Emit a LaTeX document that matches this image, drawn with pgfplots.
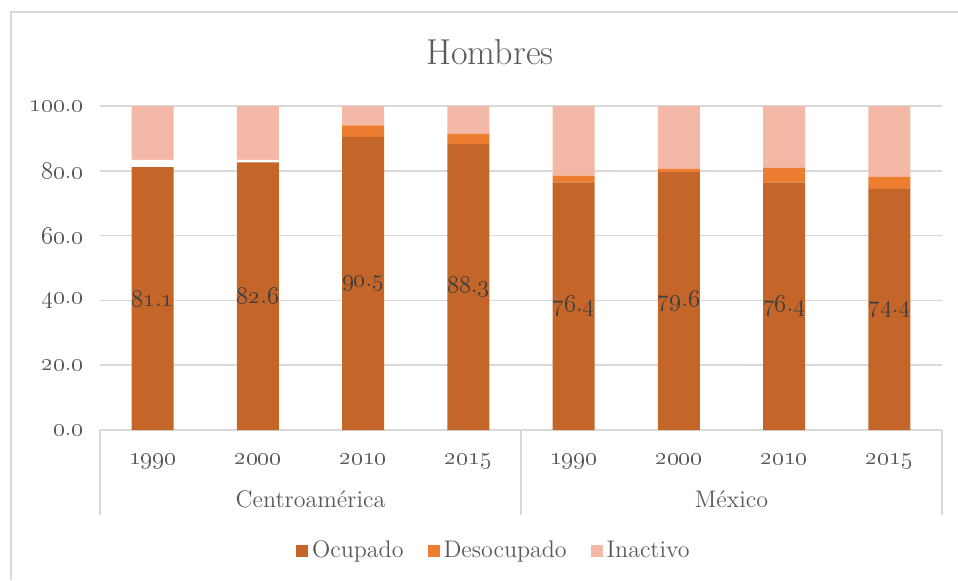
\documentclass[border=0pt]{standalone}
\usepackage{pgfplots}
\pgfplotsset{compat=1.18}

\definecolor{ocup}{HTML}{C4652A}
\definecolor{desoc}{HTML}{ED7D31}
\definecolor{inact}{HTML}{F4B9A6}
\definecolor{gridc}{HTML}{D9D9D9}
\definecolor{txt}{HTML}{595959}
\definecolor{lbl}{HTML}{404040}

% old style figures with a real period in between
\newcommand\osn[2]{\oldstylenums{#1}.\oldstylenums{#2}}
\def\osnsplit#1.#2\relax{\oldstylenums{#1}.\oldstylenums{#2}}

\begin{document}
\begin{tikzpicture}[x=0.5pt,y=0.5pt]
\useasboundingbox (0,0) rectangle (958,580);
\draw[gridc, line width=0.75pt] (11,0) -- (11,568) -- (958,568);
\node[txt, font=\fontsize{18}{20}\selectfont] at (490,528) {Hombres};

\begin{axis}[
    at={(50pt,75pt)}, anchor=south west,
    scale only axis, width=421pt, height=162pt,
    ybar stacked, bar width=21pt,
    xmin=-0.5, xmax=7.5, ymin=0, ymax=100,
    xtick={0,...,7},
    xticklabels={\oldstylenums{1990},\oldstylenums{2000},\oldstylenums{2010},\oldstylenums{2015},
                 \oldstylenums{1990},\oldstylenums{2000},\oldstylenums{2010},\oldstylenums{2015}},
    ytick={0,20,...,100},
    yticklabels={\osn{0}{0},\osn{20}{0},\osn{40}{0},\osn{60}{0},\osn{80}{0},\osn{100}{0}},
    axis x line*=bottom, axis y line*=left,
    y axis line style={draw=none},
    x axis line style={gridc, line width=0.75pt},
    tick style={draw=none},
    ymajorgrids, grid style={gridc, line width=0.75pt},
    ticklabel style={txt, font=\fontsize{11.5}{13}\selectfont},
    xticklabel style={anchor=base, yshift=-17pt},
    yticklabel style={xshift=-5pt},
    clip=false,
    legend columns=3,
    legend style={at={(0.469,-0.373)}, anchor=center, draw=none, fill=none,
        text=txt, font=\fontsize{12}{14}\selectfont,
        /tikz/every even column/.append style={column sep=10pt}},
    legend image code/.code={\draw[#1,draw=none] (0pt,-3pt) rectangle (6pt,3pt);},
]
\addplot[fill=ocup, draw=none,
    point meta=explicit symbolic,
    nodes near coords={\expandafter\osnsplit\pgfplotspointmeta\relax},
    every node near coord/.append style={anchor=center, text=lbl,
        font=\fontsize{12.5}{14}\selectfont},
] coordinates {
    (0,81.1) [81.1] (1,82.6) [82.6] (2,90.5) [90.5] (3,88.3) [88.3]
    (4,76.4) [76.4] (5,79.6) [79.6] (6,76.4) [76.4] (7,74.4) [74.4]
};
\addlegendentry{Ocupado}
% Desocupado shown in white for the first two bars
\addplot[fill=white, draw=none, forget plot] coordinates {
    (0,2.3) (1,0.8) (2,0) (3,0) (4,0) (5,0) (6,0) (7,0)
};
\addplot[fill=desoc, draw=none] coordinates {
    (0,0) (1,0) (2,3.5) (3,3.1) (4,2.1) (5,1.0) (6,4.5) (7,3.7)
};
\addlegendentry{Desocupado}
\addplot[fill=inact, draw=none] coordinates {
    (0,16.6) (1,16.6) (2,6.0) (3,8.6) (4,21.5) (5,19.4) (6,19.1) (7,21.9)
};
\addlegendentry{Inactivo}

\node[anchor=base, txt, font=\fontsize{12}{14}\selectfont, yshift=-38.5pt] at (axis cs:1.5,0) {Centroamérica};
\node[anchor=base, txt, font=\fontsize{12}{14}\selectfont, yshift=-38.5pt] at (axis cs:5.5,0) {México};
\draw[gridc, line width=0.75pt] (axis cs:-0.5,0) -- ++(0pt,-42.5pt);
\draw[gridc, line width=0.75pt] (axis cs:3.5,0) -- ++(0pt,-42.5pt);
\draw[gridc, line width=0.75pt] (axis cs:7.5,0) -- ++(0pt,-42.5pt);
\end{axis}
\end{tikzpicture}
\end{document}
